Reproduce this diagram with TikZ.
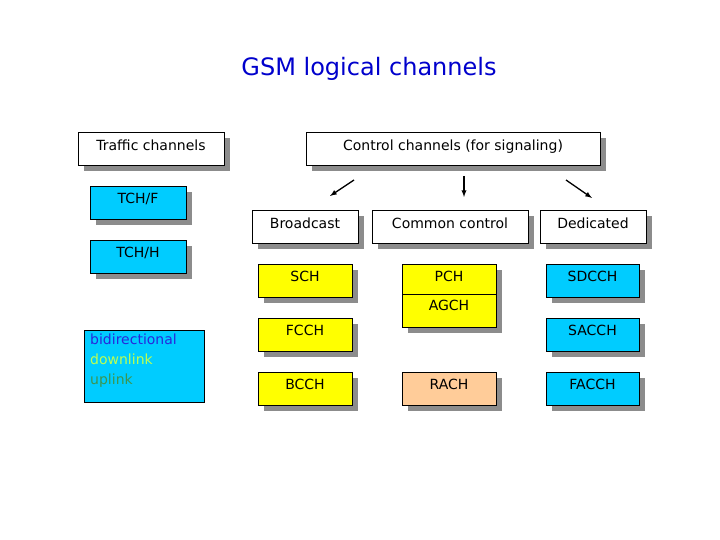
\documentclass[tikz,border=0pt]{standalone}
\usepackage{fontspec}
\setmainfont{DejaVu Sans}
\begin{document}
\begin{tikzpicture}[x=1pt,y=-1pt,
  box/.style={draw=black,line width=0.8pt,inner sep=0pt,font=\fontsize{14}{16}\selectfont},
  shad/.style={fill=black!45},
  arr/.style={-latex,line width=1.3pt}]
\useasboundingbox (0,0) rectangle (720,540);
\definecolor{cy}{RGB}{0,204,255}
\definecolor{yl}{RGB}{255,255,0}
\definecolor{pk}{RGB}{255,204,153}
\newcommand{\bx}[7]{% name, x1,y1,x2,y2, fill, text
  \fill[shad] (#2+6,#3+6) rectangle (#4+6,#5+6);
  \draw[fill=#6,line width=0.8pt] (#2,#3) rectangle (#4,#5);
  \node[font=\fontsize{14}{16}\selectfont,anchor=north] (#1) at ({(#2+#4)/2},#3+4) {#7};}
\node[font=\fontsize{24}{28}\selectfont,text={rgb,255:red,0;green,0;blue,204}] (title) at (369,69) {GSM logical channels};
\bx{traffic}{78}{132}{224}{165}{white}{Traffic channels}
\bx{control}{306}{132}{600}{165}{white}{Control channels (for signaling)}
\bx{tchf}{90}{186}{186}{219}{cy}{TCH/F}
\bx{tchh}{90}{240}{186}{273}{cy}{TCH/H}
\bx{bcast}{252}{210}{358}{243}{white}{Broadcast}
\bx{common}{372}{210}{528}{243}{white}{Common control}
\bx{ded}{540}{210}{646}{243}{white}{Dedicated}
\bx{sch}{258}{264}{352}{297}{yl}{SCH}
\bx{fcch}{258}{318}{352}{351}{yl}{FCCH}
\bx{bcch}{258}{372}{352}{405}{yl}{BCCH}
\bx{pch}{402}{264}{496}{327}{yl}{PCH}
\draw[line width=0.8pt] (402,294) -- (496,294);
\node[font=\fontsize{14}{16}\selectfont,anchor=north] (agch) at (449,297) {AGCH};
\bx{rach}{402}{372}{496}{405}{pk}{RACH}
\bx{sdcch}{546}{264}{639}{297}{cy}{SDCCH}
\bx{sacch}{546}{318}{639}{351}{cy}{SACCH}
\bx{facch}{546}{372}{639}{405}{cy}{FACCH}
\draw[fill=cy,line width=0.8pt] (84,330) rectangle (204,402);
\node[anchor=north west,align=left,inner sep=0pt,font=\fontsize{14}{20}\selectfont] (legend) at (90,334)
 {\textcolor[RGB]{40,40,220}{bidirectional}\\ \textcolor[RGB]{190,255,80}{downlink}\\ \textcolor[RGB]{60,150,80}{uplink}};
\coordinate (a1) at (354,180); \coordinate (b1) at (330,196);
\coordinate (a2) at (464,176); \coordinate (b2) at (464,197);
\coordinate (a3) at (566,180); \coordinate (b3) at (592,198);
\draw[arr] (a1) -- (b1);
\draw[arr] (a2) -- (b2);
\draw[arr] (a3) -- (b3);
\end{tikzpicture}
\end{document}
